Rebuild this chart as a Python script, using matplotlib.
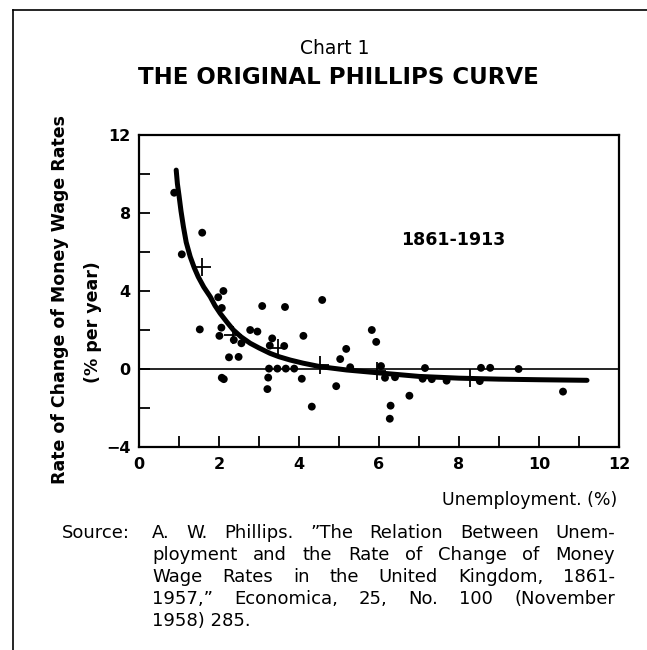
#!/usr/bin/env python3
"""Chart 1: the original Phillips curve, 1861-1913."""
import matplotlib
matplotlib.use("Agg")
import matplotlib.pyplot as plt
from matplotlib.lines import Line2D

unemp = [0.88, 1.07, 1.58, 1.52, 2.11, 1.98, 2.07, 2.06, 2.01, 2.37,
         2.56, 2.25, 2.49, 2.07, 2.12, 2.78, 2.96, 3.08, 3.65, 3.33,
         3.27, 3.63, 4.11, 4.58, 3.25, 3.46, 3.67, 3.88, 3.23, 3.21,
         4.07, 4.32, 4.93, 5.03, 5.18, 5.28, 5.82, 5.93, 6.05, 6.15,
         6.40, 6.76, 6.29, 6.27, 7.15, 7.09, 7.32, 7.69, 8.55, 8.78,
         9.49, 8.52, 10.60]
wage = [9.04, 5.88, 6.99, 2.03, 4.00, 3.68, 3.13, 2.12, 1.70, 1.49,
        1.32, 0.60, 0.62, -0.45, -0.52, 2.00, 1.92, 3.23, 3.18, 1.57,
        1.20, 1.18, 1.70, 3.54, 0.02, 0.02, 0.02, 0.02, -0.44, -1.03,
        -0.50, -1.93, -0.88, 0.51, 1.03, 0.09, 2.00, 1.39, 0.15, -0.45,
        -0.42, -1.37, -1.88, -2.55, 0.05, -0.50, -0.52, -0.60, 0.06, 0.06,
        0.00, -0.62, -1.16]

# fitted curve
curve_u = [0.93, 0.96, 1.0, 1.05, 1.11, 1.18, 1.28, 1.38, 1.48, 1.62,
           1.78, 1.9, 2.03, 2.2, 2.36, 2.55, 2.78, 3.0, 3.28, 3.5,
           3.78, 4.1, 4.53, 5.19, 6.0, 7.0, 8.0, 9.0, 10.0, 11.2]
curve_w = [10.2, 9.5, 8.9, 8.1, 7.3, 6.5, 5.76, 5.2, 4.73, 4.2,
           3.71, 3.25, 2.85, 2.4, 2.0, 1.65, 1.32, 1.08, 0.8, 0.63,
           0.46, 0.3, 0.12, -0.05, -0.2, -0.38, -0.47, -0.52, -0.55, -0.58]

# group averages (crosses)
mean_u = [1.58, 2.34, 3.48, 4.53, 5.96, 8.28]
mean_w = [5.25, 1.75, 1.06, 0.18, -0.10, -0.48]

x_ticks = list(range(0, 13))
x_labels = [str(v) if v % 2 == 0 else "" for v in x_ticks]
y_ticks = list(range(-4, 13, 2))
y_labels = [str(v).replace("-", "\u2212") if v % 4 == 0 else "" for v in y_ticks]

source_lines = [
    "A. W. Phillips. \u201dThe Relation Between Unem-",
    "ployment and the Rate of Change of Money",
    "Wage Rates in the United Kingdom, 1861-",
    "1957,\u201d Economica, 25, No. 100 (November",
]
source_last = "1958) 285."

W, H = 647, 650


def justified(fig, text, x0, x1, y, **kw):
    # spread the words of one line evenly between x0 and x1 (pixels)
    words = text.split()
    r = fig.canvas.get_renderer()
    arts = [fig.text(0, 1 - y / H, w, va="center", ha="left", **kw) for w in words]
    widths = [a.get_window_extent(r).width for a in arts]
    gap = (x1 - x0 - sum(widths)) / (len(words) - 1)
    x = x0
    for a, w in zip(arts, widths):
        a.set_x(x / W)
        x += w + gap


def main() -> None:
    plt.rcParams["font.family"] = ["DejaVu Sans"]
    fig = plt.figure(figsize=(W / 100, H / 100), dpi=100)
    ax = fig.add_axes([139 / W, 1 - 447 / H, (619 - 139) / W, (447 - 135) / H])

    ax.axhline(0, color="black", lw=1.2, zorder=1)
    ax.plot(curve_u, curve_w, color="black", lw=3.6, solid_capstyle="round",
            solid_joinstyle="round", zorder=2)
    ax.scatter(unemp, wage, s=32, color="black", edgecolors="none", zorder=3)
    ax.plot(mean_u, mean_w, ls="none", marker="+", ms=13, mew=1.3,
            color="black", zorder=4)

    ax.set_xlim(0, 12)
    ax.set_ylim(-4, 12)
    ax.set_xticks(x_ticks)
    ax.set_xticklabels(x_labels, fontweight="bold", fontsize=11.5)
    ax.set_yticks(y_ticks)
    ax.set_yticklabels(y_labels, fontweight="bold", fontsize=11.5)
    ax.tick_params(direction="in", length=8, width=1.3, color="black")
    ax.tick_params(axis="x", pad=7)
    ax.tick_params(axis="y", pad=6)
    for sp in ax.spines.values():
        sp.set_linewidth(1.6)

    ax.text(7.85, 6.6, "1861-1913", fontsize=12.5, fontweight="bold",
            ha="center", va="center")

    fig.text(335 / W, 1 - 49 / H, "Chart 1", fontsize=13.5, ha="center", va="center")
    fig.text(338 / W, 1 - 78 / H, "THE ORIGINAL PHILLIPS CURVE", fontsize=16.5,
             fontweight="bold", ha="center", va="center")

    fig.text(60 / W, 1 - 300 / H, "Rate of Change of Money Wage Rates",
             rotation=90, fontsize=12.5, fontweight="bold", ha="center", va="center")
    fig.text(93 / W, 1 - 322 / H, "(% per year)", rotation=90, fontsize=12.5,
             fontweight="bold", ha="center", va="center")
    fig.text(617 / W, 1 - 500 / H, "Unemployment. (%)", fontsize=12.5,
             ha="right", va="center")

    fig.text(62 / W, 1 - 533 / H, "Source:", fontsize=13, ha="left", va="center")
    for i, line in enumerate(source_lines):
        justified(fig, line, 152, 615, 533 + 22 * i, fontsize=13)
    fig.text(152 / W, 1 - (533 + 22 * 4) / H, source_last, fontsize=13,
             ha="left", va="center")

    # page border (top and left)
    fig.add_artist(Line2D([13 / W, 13 / W], [0, 1 - 10 / H], color="black", lw=1.2))
    fig.add_artist(Line2D([13 / W, 1], [1 - 10 / H, 1 - 10 / H], color="black", lw=1.2))

    fig.savefig("out.png", dpi=100)
    plt.close(fig)


if __name__ == "__main__":
    main()
